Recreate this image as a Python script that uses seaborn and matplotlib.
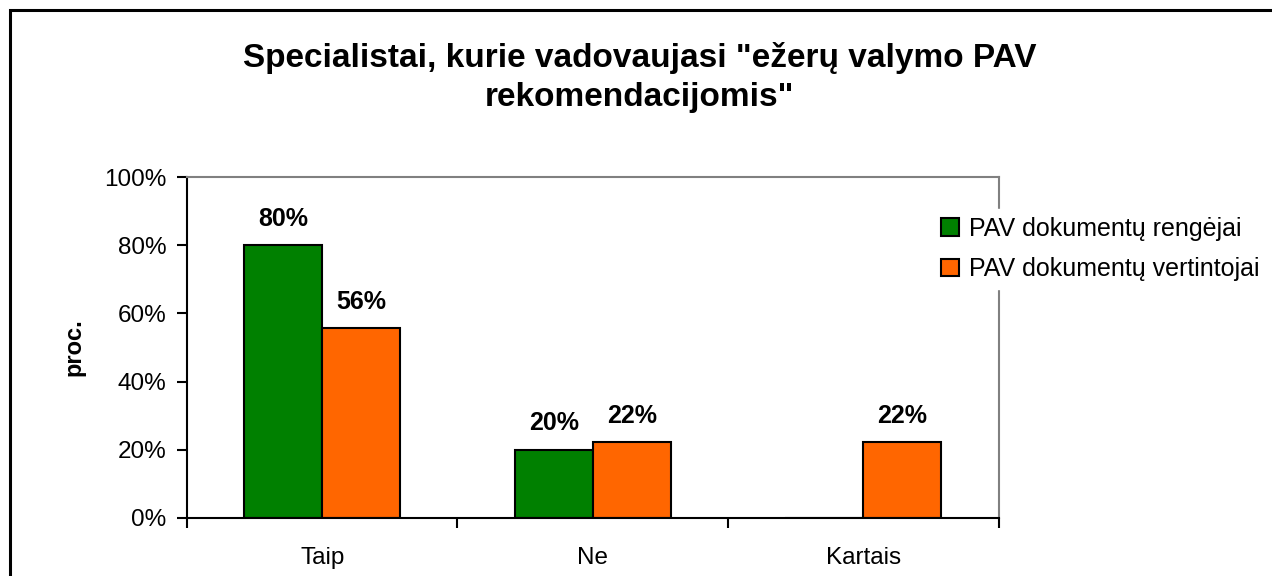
import matplotlib
matplotlib.use("Agg")
import matplotlib.pyplot as plt
from matplotlib.patches import Rectangle
import pandas as pd
import seaborn as sns

categories = ["Taip", "Ne", "Kartais"]
series = ["PAV dokumentų rengėjai", "PAV dokumentų vertintojai"]
rengejai = [80.0, 20.0, 0.0]
vertintojai = [55.6, 22.2, 22.2]
colors = ["#008000", "#FF6600"]

df = pd.DataFrame({
    "cat": categories * 2,
    "grupe": [series[0]] * 3 + [series[1]] * 3,
    "proc": rengejai + vertintojai,
})

sns.set_theme(style="white")
plt.rcParams["font.family"] = ["Liberation Sans", "DejaVu Sans"]
plt.rcParams["text.color"] = "black"
plt.rcParams["axes.labelcolor"] = "black"
plt.rcParams["xtick.color"] = "black"
plt.rcParams["ytick.color"] = "black"

fig = plt.figure(figsize=(12.72, 5.76), dpi=100)
ax = fig.add_axes([0.147, 0.1007, 0.638, 0.592])

sns.barplot(data=df, x="cat", y="proc", hue="grupe", order=categories,
            hue_order=series, palette=colors, width=0.576, gap=0,
            edgecolor="black", linewidth=1.5, saturation=1, ax=ax)

# value labels above the bars
for cont, vals in zip(ax.containers, [rengejai, vertintojai]):
    for bar, v in zip(cont, vals):
        if v <= 0:
            continue
        ax.annotate(f"{v:.0f}%", (bar.get_x() + bar.get_width() / 2, v),
                    xytext=(0, 19), textcoords="offset points",
                    ha="center", va="center", fontsize=18, fontweight="bold")

ax.set_ylim(0, 100)
ax.set_xlim(-0.5, 2.5)
ax.set_yticks([0, 20, 40, 60, 80, 100])
ax.set_yticklabels([f"{t}%" for t in [0, 20, 40, 60, 80, 100]], fontsize=17.5)
ax.set_xticks([0, 1, 2])
ax.set_xticklabels(categories, fontsize=17.5)
ax.set_xticks([-0.5, 0.5, 1.5, 2.5], minor=True)
ax.tick_params(axis="x", which="major", length=0, pad=21)
ax.tick_params(axis="x", which="minor", direction="out", length=7, width=1.5, bottom=True)
ax.tick_params(axis="y", direction="out", length=7, width=1.5, left=True, pad=8)
ax.set_xlabel("")
ax.set_ylabel("proc.", fontsize=17, fontweight="bold", labelpad=13)

for side in ["left", "bottom"]:
    ax.spines[side].set_color("black")
    ax.spines[side].set_linewidth(1.5)
for side in ["top", "right"]:
    ax.spines[side].set_color("#808080")
    ax.spines[side].set_linewidth(1.5)

leg = ax.legend(loc="upper left", bbox_to_anchor=(0.92, 0.905), fontsize=18,
                frameon=True, facecolor="white", edgecolor="white", framealpha=1,
                handlelength=0.7, handleheight=0.7, handletextpad=0.4,
                labelspacing=0.65, borderpad=0.3, borderaxespad=0)
leg.set_zorder(5)

fig.text(0.503, 0.865, "Specialistai, kurie vadovaujasi \"ežerų valymo PAV\nrekomendacijomis\"",
         ha="center", va="center", fontsize=24, fontweight="bold", linespacing=1.35)

# outer chart frame (only top and left edges visible)
fig.add_artist(Rectangle((10 / 1272, -0.5), 2, 1.4826, transform=fig.transFigure,
                         fill=False, edgecolor="black", linewidth=2.2, clip_on=False))

fig.savefig("out.png", dpi=100)
